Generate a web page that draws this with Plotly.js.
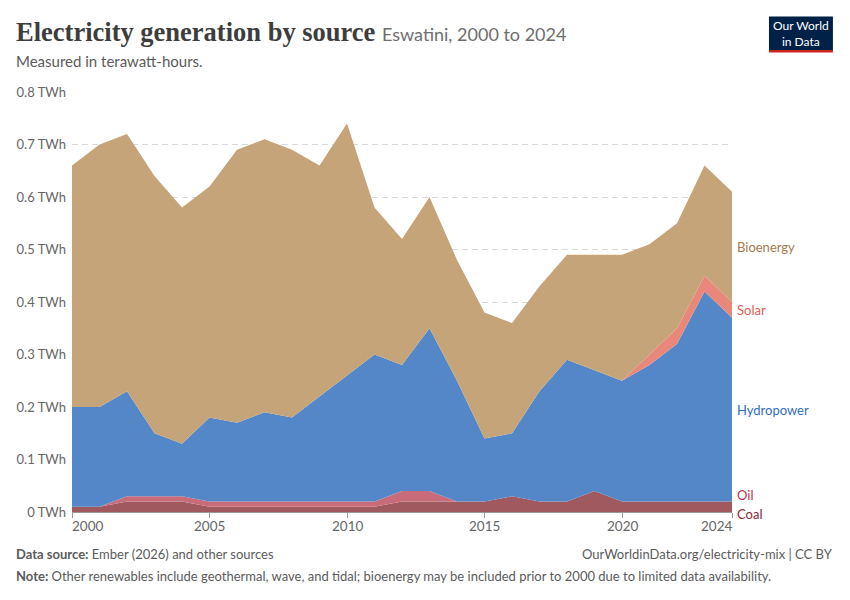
<!DOCTYPE html>
<html>
<head>
<meta charset="utf-8">
<script src="https://cdn.plot.ly/plotly-3.0.1.min.js"></script>
<style>
html,body{margin:0;padding:0;background:#fff;}
#chart{width:850px;height:600px;}
</style>
</head>
<body>
<div id="chart"></div>
<script>
var years = [2000,2001,2002,2003,2004,2005,2006,2007,2008,2009,2010,2011,2012,2013,2014,2015,2016,2017,2018,2019,2020,2021,2022,2023,2024];
var coal = [0.01,0.01,0.02,0.02,0.02,0.01,0.01,0.01,0.01,0.01,0.01,0.01,0.02,0.02,0.02,0.02,0.03,0.02,0.02,0.04,0.02,0.02,0.02,0.02,0.02];
var oil = [0,0,0.01,0.01,0.01,0.01,0.01,0.01,0.01,0.01,0.01,0.01,0.02,0.02,0,0,0,0,0,0,0,0,0,0,0];
var hydropower = [0.19,0.19,0.20,0.12,0.10,0.16,0.15,0.17,0.16,0.20,0.24,0.28,0.24,0.31,0.23,0.12,0.12,0.21,0.27,0.23,0.23,0.26,0.30,0.40,0.35];
var solar = [0,0,0,0,0,0,0,0,0,0,0,0,0,0,0,0,0,0,0,0,0,0.02,0.03,0.03,0.03];
var bioenergy = [0.46,0.50,0.49,0.49,0.45,0.44,0.52,0.52,0.51,0.44,0.48,0.28,0.24,0.25,0.23,0.24,0.21,0.20,0.20,0.22,0.24,0.21,0.20,0.21,0.21];
var xTickLabels = [2000,2005,2010,2015,2020,2024];
var yTickVals = [0,0.1,0.2,0.3,0.4,0.5,0.6,0.7,0.8];
var yTickText = ["0 TWh","0.1 TWh","0.2 TWh","0.3 TWh","0.4 TWh","0.5 TWh","0.6 TWh","0.7 TWh","0.8 TWh"];

var series = [
  {name:"Coal", y:coal, fill:"#a05a5f", label:"#8b2838", shift:-7},
  {name:"Oil", y:oil, fill:"#c96c7a", label:"#b9354f", shift:7},
  {name:"Hydropower", y:hydropower, fill:"#5387c7", label:"#2f6ec4", shift:0},
  {name:"Solar", y:solar, fill:"#e9877a", label:"#e0604f", shift:0},
  {name:"Bioenergy", y:bioenergy, fill:"#c6a47a", label:"#a7784a", shift:0}
];

var traces = series.map(function(s){
  return {
    x: years, y: s.y, name: s.name, type: "scatter", mode: "lines",
    stackgroup: "one", line: {width: 0, color: s.fill}, fillcolor: s.fill,
    hoverinfo: "skip"
  };
});

var ML = 71.5, MR = 118, MT = 91.7, MB = 87.5, W = 850, H = 600;
var pw = W - ML - MR, ph = H - MT - MB;
function px2paperX(px){ return (px - ML) / pw; }
function px2paperY(py){ return (H - MB - py) / ph; }

var F = "Lato, 'Noto Sans', sans-serif";
var annotations = [];
xTickLabels.forEach(function(v, i){
  var anchor = i === 0 ? "left" : (i === xTickLabels.length - 1 ? "right" : "center");
  annotations.push({x: v, xref: "x", y: 0, yref: "paper", yanchor: "top", yshift: -4,
    xshift: i === 0 ? -2 : (i === xTickLabels.length - 1 ? 2 : 0),
    xanchor: anchor, text: String(v), showarrow: false, font: {family: F, size: 13.5, color: "#666"}});
});
var last = years.length - 1, cum = 0;
series.forEach(function(s){
  var v = s.y[last];
  var mid = cum + v / 2;
  cum += v;
  annotations.push({x: 1, xref: "paper", xshift: 3, xanchor: "left", y: mid, yref: "y", yshift: s.shift,
    yanchor: "middle", text: s.name, showarrow: false, font: {family: F, size: 13, color: s.label}});
});
function txt(px, py, anchor, text, size, color){
  annotations.push({x: px2paperX(px), xref: "paper", y: px2paperY(py), yref: "paper", xanchor: anchor, yanchor: "middle",
    xshift: anchor === "left" ? -3 : (anchor === "right" ? 2 : 0),
    text: text, showarrow: false, font: {family: F, size: size, color: color}});
}
txt(16, 61, "left", "Measured in terawatt-hours.", 15, "#5b5b5b");
txt(16, 555, "left", "<b>Data source:</b> Ember (2026) and other sources", 13, "#5b5b5b");
txt(833, 555, "right", "OurWorldinData.org/electricity-mix | CC BY", 13, "#5b5b5b");
txt(16, 577, "left", "<b>Note:</b> Other renewables include geothermal, wave, and tidal; bioenergy may be included prior to 2000 due to limited data availability.", 13, "#5b5b5b");
annotations.push({x: px2paperX(801), xref: "paper", y: px2paperY(33), yref: "paper", xanchor: "center", yanchor: "middle",
  text: "Our World<br>in Data", showarrow: false, font: {family: F, size: 12, color: "#ffffff"}});

var layout = {
  width: W, height: H,
  paper_bgcolor: "#fff", plot_bgcolor: "#fff",
  margin: {l: ML, r: MR, t: MT, b: MB, pad: 0},
  showlegend: false,
  title: {
    text: "<b>Electricity generation by source</b> <span style='font-family:Lato;font-size:18px;color:#6e6e6e'>Eswatini, 2000 to 2024</span>",
    x: 16/850, xref: "container", xanchor: "left",
    y: 1 - 32/600, yref: "container", yanchor: "middle",
    font: {family: "'Liberation Serif', 'DejaVu Serif', serif", size: 26.5, color: "#3d3d3d"}
  },
  xaxis: {
    range: [2000, 2024], tickvals: xTickLabels, showticklabels: false,
    ticks: "outside", ticklen: 5, tickcolor: "#999", showgrid: false,
    showline: true, linecolor: "#999", linewidth: 1, zeroline: false, fixedrange: true
  },
  yaxis: {
    range: [0, 0.8], tickvals: yTickVals, ticktext: yTickText,
    showgrid: true, gridcolor: "#d9d9d9", griddash: "6px,4px", gridwidth: 1,
    zeroline: false, showline: false, ticks: "", ticklabelstandoff: 5,
    tickfont: {family: F, size: 13, color: "#666"}, fixedrange: true
  },
  annotations: annotations,
  shapes: [
    {type: "rect", xref: "paper", yref: "paper", x0: px2paperX(769), x1: px2paperX(833), y0: px2paperY(50), y1: px2paperY(16),
     fillcolor: "#002147", line: {width: 0}, layer: "above"},
    {type: "rect", xref: "paper", yref: "paper", x0: px2paperX(769), x1: px2paperX(833), y0: px2paperY(52), y1: px2paperY(49.5),
     fillcolor: "#ce261e", line: {width: 0}, layer: "above"}
  ]
};

Plotly.newPlot("chart", traces, layout, {displayModeBar: false, staticPlot: true});
</script>
</body>
</html>
